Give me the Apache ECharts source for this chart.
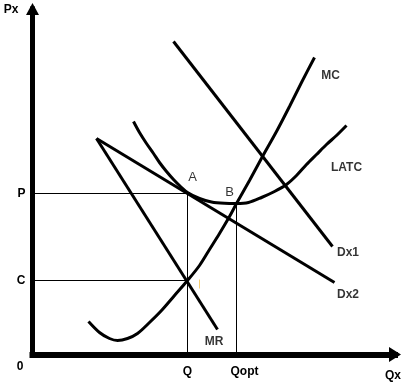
<!DOCTYPE html>
<html>
<head>
<meta charset="utf-8">
<script src="https://cdn.jsdelivr.net/npm/echarts@6/dist/echarts.min.js"></script>
<style>
html,body{margin:0;padding:0;background:#fff;}
#c{width:406px;height:383px;}
</style>
</head>
<body>
<div id="c"></div>
<script>
// ---- data (axis units; origin at the axes' corner) ----
const Qv = 155, Qopt = 204;      // quantities
const Pv = 161, Cv = 74, Bv = 151; // prices / costs
const xTicks = [Qv, Qopt];
const xTickNames = ['Q', 'Qopt'];
const yTicks = [Pv, Cv];
const yTickNames = ['P', 'C'];

const mc = [[56,33],[67,22],[77,16],[85,14],[95,16],[105,21],[117,32],[129,44],[142,59],[155,74],
            [167,89],[177,105],[187,121],[197,138],[204,151],[217,174],[230,198],[244,223],[257,248],[269,272],[282,297]];
const latc = [[101,233],[107,222],[114,211],[121,201],[127,192],[134,183],[141,175],[148,168],[155,162],
              [167,156],[179,152.5],[192,151.2],[204,151],[216,152],[229,157],[242,163],[254,170],[264,179],
              [274,190],[284,200],[294,210],[304,219],[314,229]];
const dx1 = [[141,313],[300,108]];
const dx2 = [[64,216],[302,72]];
const mr  = [[64,216],[185,25]];
const mark = [[167,75],[167,66]];

const chart = echarts.init(document.getElementById('c'), null, {renderer:'canvas'});
const FONT = "'Liberation Sans', Arial, sans-serif";
const thick = {color:'#000', width:3};
const thin = {color:'#000', width:1};
function line(name, data, style, smooth, z){
  return {type:'line', name, data, showSymbol:false, symbol:'none', smooth: smooth||false,
          lineStyle: style, z: z||2, silent:true};
}
const labelDefs = [
  {name:'MC',  value:[298,279]},
  {name:'LATC',value:[314,187]},
  {name:'Dx1', value:[315.5,102]},
  {name:'Dx2', value:[315.5,60]},
  {name:'MR',  value:[181.5,13]},
  {name:'A',   value:[160,177], label:{fontWeight:'normal', fontSize:13}},
  {name:'B',   value:[197,162], label:{fontWeight:'normal', fontSize:13}}
];

chart.setOption({
  animation:false,
  backgroundColor:'#fff',
  grid:{left:32.5, right:11, top:9, bottom:28.5},
  xAxis:{
    type:'value', min:0, max:362.5,
    name:'Qx', nameLocation:'end', nameGap:-10,
    nameTextStyle:{color:'#000', fontWeight:'bold', fontSize:12, fontFamily:FONT, align:'left', verticalAlign:'top', padding:[15,0,0,0]},
    axisLine:{show:true, onZero:false, symbol:['none','triangle'], symbolSize:[15,12],
              lineStyle:{color:'#000', width:6, cap:'square'}},
    axisTick:{show:false}, splitLine:{show:false},
    axisLabel:{show:true, customValues:xTicks, margin:11, color:'#000', fontWeight:'bold', fontSize:12, fontFamily:FONT,
      formatter:(v)=>{const i=xTicks.indexOf(v); return i===1?'{o|'+xTickNames[i]+'}':'{q|'+xTickNames[i]+'}';},
      rich:{q:{color:'#000', fontWeight:'bold', fontSize:12, fontFamily:FONT},
            o:{color:'#000', fontWeight:'bold', fontSize:12, fontFamily:FONT, padding:[0,0,0,16]}}}
  },
  yAxis:{
    type:'value', min:0, max:345.5,
    name:'Px', nameLocation:'end', nameGap:-1,
    nameTextStyle:{color:'#000', fontWeight:'bold', fontSize:12, fontFamily:FONT, align:'right', verticalAlign:'middle', padding:[0,14,0,0]},
    axisLine:{show:true, onZero:false, symbol:['none','triangle'], symbolSize:[13,12],
              lineStyle:{color:'#000', width:5, cap:'square'}},
    axisTick:{show:false}, splitLine:{show:false},
    axisLabel:{show:true, customValues:yTicks, margin:7, color:'#000', fontWeight:'bold', fontSize:12, fontFamily:FONT,
      padding:[0,0,6,0],
      formatter:(v)=>yTickNames[yTicks.indexOf(v)]}
  },
  graphic:[{type:'text', x:20, y:367, style:{text:'0', fill:'#000', font:'bold 12px '+FONT, textAlign:'center', textVerticalAlign:'middle'}}],
  series:[
    line('Pline', [[0,Pv],[Qv,Pv]], thin),
    line('Cline', [[0,Cv],[Qv,Cv]], thin),
    line('Qline', [[Qv,0],[Qv,Pv]], thin),
    line('Qoptline', [[Qopt,0],[Qopt,Bv]], thin),
    line('mark', mark, {color:'#f7cf72', width:1}),
    line('MC', mc, thick, 0.3, 3),
    line('LATC', latc, thick, 0.3, 3),
    line('Dx1', dx1, thick, false, 3),
    line('Dx2', dx2, thick, false, 3),
    line('MR', mr, thick, false, 3),
    {type:'scatter', name:'labels', symbolSize:0, silent:true, z:5,
     label:{show:true, position:'inside', formatter:'{b}', color:'#000', fontWeight:'bold', fontSize:12, fontFamily:FONT},
     data: labelDefs}
  ]
});
</script>
</body>
</html>
